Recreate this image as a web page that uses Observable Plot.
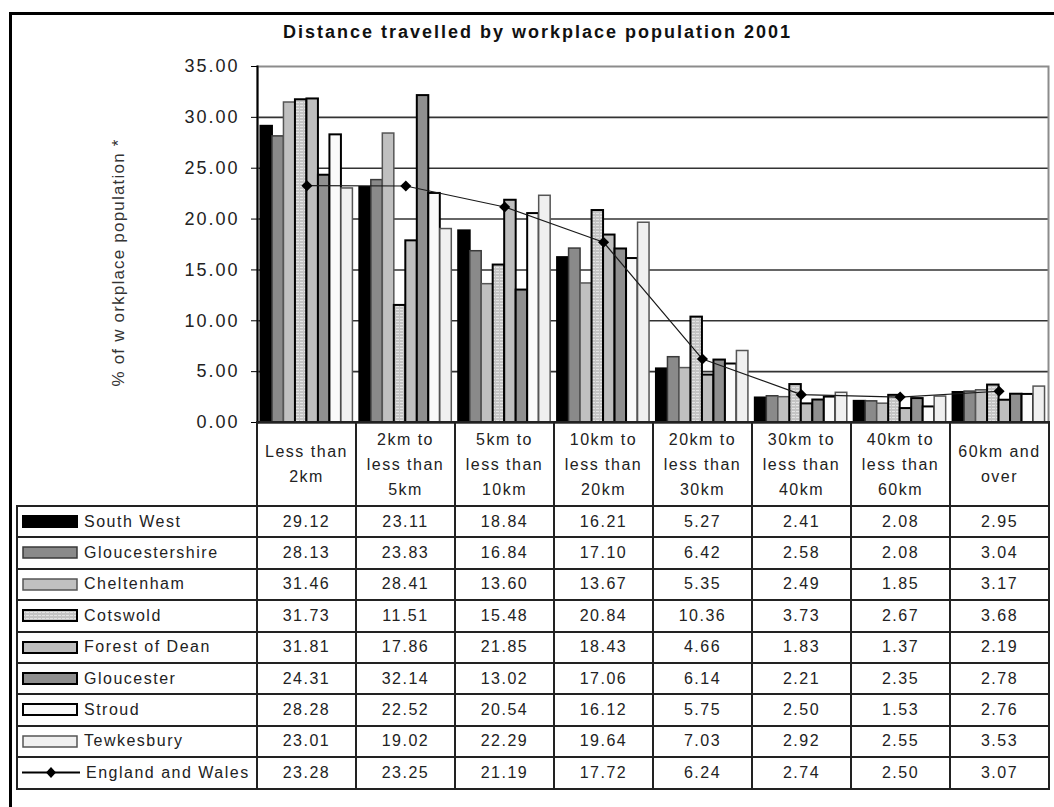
<!DOCTYPE html>
<html>
<head>
<meta charset="utf-8">
<script src="https://cdn.jsdelivr.net/npm/d3@7"></script>
<script src="https://cdn.jsdelivr.net/npm/@observablehq/plot@0.6"></script>
<style>
  html, body { margin: 0; padding: 0; background: #fff; }
  body { font-family: "Liberation Sans", Arial, sans-serif; }
  #wrap { position: relative; width: 1054px; height: 807px; overflow: hidden; background: #fff; }
  #frame { position: absolute; left: 9px; top: 12px; width: 1200px; height: 1000px;
           border-top: 3px solid #000; border-left: 3px solid #000; }
  #title { position: absolute; left: 0; top: 21px; width: 1075px; text-align: center;
           font-size: 18px; font-weight: bold; letter-spacing: 2px; color: #111; line-height: 22px; }
  #chart { position: absolute; left: 0; top: 0; }
  #table { position: absolute; left: 16px; top: 421px; }
  #table table { border-collapse: collapse; table-layout: fixed; width: 1032px; }
  #table td { border: 2px solid #222; font-size: 16px; letter-spacing: 1.5px; text-align: center;
              padding: 0; color: #222; height: 29.4px; line-height: 18px; }
  #table tr.head td { height: 82px; line-height: 25px; }
  #table td.blank { border-top: none; border-left: none; }
  #table td.name { text-align: left; padding-left: 4px; white-space: nowrap; }
  #table td.name svg { vertical-align: middle; margin-right: 6px; position: relative; top: -1px; }
</style>
</head>
<body>
<div id="wrap">
  <div id="frame"></div>
  <div id="title"></div>
  <div id="chart"></div>
  <div id="table"></div>
</div>
<script>
// ---- data ----
const titleText = "Distance travelled by workplace population 2001";
const yLabel = "% of w orkplace population *";
const categories = ["Less than 2km", "2km to less than 5km", "5km to less than 10km", "10km to less than 20km",
  "20km to less than 30km", "30km to less than 40km", "40km to less than 60km", "60km and over"];
const categoryLabels = [["Less than", "2km"], ["2km to", "less than", "5km"], ["5km to", "less than", "10km"],
  ["10km to", "less than", "20km"], ["20km to", "less than", "30km"], ["30km to", "less than", "40km"],
  ["40km to", "less than", "60km"], ["60km and", "over"]];
const seriesNames = ["South West", "Gloucestershire", "Cheltenham", "Cotswold", "Forest of Dean",
  "Gloucester", "Stroud", "Tewkesbury"];
const southWest       = [29.12, 23.11, 18.84, 16.21, 5.27, 2.41, 2.08, 2.95];
const gloucestershire = [28.13, 23.83, 16.84, 17.10, 6.42, 2.58, 2.08, 3.04];
const cheltenham      = [31.46, 28.41, 13.60, 13.67, 5.35, 2.49, 1.85, 3.17];
const cotswold        = [31.73, 11.51, 15.48, 20.84, 10.36, 3.73, 2.67, 3.68];
const forestOfDean    = [31.81, 17.86, 21.85, 18.43, 4.66, 1.83, 1.37, 2.19];
const gloucester      = [24.31, 32.14, 13.02, 17.06, 6.14, 2.21, 2.35, 2.78];
const stroud          = [28.28, 22.52, 20.54, 16.12, 5.75, 2.50, 1.53, 2.76];
const tewkesbury      = [23.01, 19.02, 22.29, 19.64, 7.03, 2.92, 2.55, 3.53];
const lineName = "England and Wales";
const englandWales    = [23.28, 23.25, 21.19, 17.72, 6.24, 2.74, 2.50, 3.07];
const yTicks = [0, 5, 10, 15, 20, 25, 30, 35];
const gridLines = [5, 10, 15, 20, 25, 30];

// ---- styles ----
const seriesValues = [southWest, gloucestershire, cheltenham, cotswold, forestOfDean, gloucester, stroud, tewkesbury];
const seriesStyle = [
  {fill: "#000000", stroke: "#000000", sw: 2},
  {fill: "#8a8a8a", stroke: "#3a3a3a", sw: 1.5},
  {fill: "#c0c0c0", stroke: "#555555", sw: 1.5},
  {fill: "url(#hatch)", stroke: "#000000", sw: 2},
  {fill: "#bebebe", stroke: "#000000", sw: 2},
  {fill: "#8f8f8f", stroke: "#000000", sw: 2},
  {fill: "#fafafa", stroke: "#000000", sw: 2},
  {fill: "#f0f0f0", stroke: "#555555", sw: 1.5}
];

const xScale = {domain: categories, paddingInner: 0.07, paddingOuter: 0.035, round: false, axis: null};
const ew = categories.map((c, j) => ({cat: c, value: englandWales[j]}));

function build(bw) {
  const w = bw / 8;
  const bars = seriesNames.map((s, i) => Plot.barY(
    categories.map((c, j) => ({cat: c, series: s, value: seriesValues[i][j]})),
    {x: "cat", y: "value", fill: seriesStyle[i].fill, stroke: seriesStyle[i].stroke,
     strokeWidth: seriesStyle[i].sw, insetLeft: i * w, insetRight: (7 - i) * w}
  ));
  return Plot.plot({
    width: 1054, height: 424,
    marginLeft: 257, marginRight: 6, marginTop: 66, marginBottom: 2,
    style: {fontFamily: "'Liberation Sans', Arial, sans-serif", background: "transparent", overflow: "visible"},
    x: xScale,
    y: {domain: [0, 35], label: null},
    marks: [
      Plot.ruleY(gridLines, {stroke: "#333", strokeWidth: 1.6}),
      Plot.frame({stroke: "#8c8c8c", strokeWidth: 2}),
      ...bars,
      Plot.ruleY([0], {stroke: "#000", strokeWidth: 2}),
      Plot.frame({anchor: "left", stroke: "#000", strokeWidth: 2}),
      Plot.line(ew, {x: "cat", y: "value", stroke: "#1a1a1a", strokeWidth: 1.2}),
      Plot.dot(ew, {x: "cat", y: "value", symbol: "diamond2", r: 5, fill: "#000", stroke: "none"}),
      Plot.axisY({ticks: yTicks, tickFormat: d => d.toFixed(2), tickSize: 6, tickPadding: 12,
                  fontSize: 18, stroke: "#000", fill: "#222", label: null}),
      Plot.text([yLabel], {frameAnchor: "left", rotate: -90, dx: -139, dy: 18, fontSize: 17,
                           fill: "#333", textAnchor: "middle", lineAnchor: "middle"})
    ]
  });
}

let chart = build(80);
const bw = chart.scale("x").bandwidth;
chart = build(bw);

// pattern for Cotswold
const svgSel = d3.select(chart.tagName.toLowerCase() === "svg" ? chart : chart.querySelector("svg"));
const defs = svgSel.insert("defs", ":first-child");
const pat = defs.append("pattern").attr("id", "hatch").attr("patternUnits", "userSpaceOnUse")
  .attr("width", 4).attr("height", 3);
pat.append("rect").attr("width", 4).attr("height", 3).attr("fill", "#c4c4c4");
pat.append("rect").attr("x", 0).attr("y", 0).attr("width", 3).attr("height", 1).attr("fill", "#e4e4e4");

svgSel.selectAll('g[aria-label="y-axis tick label"] text').style("letter-spacing", "2px");
svgSel.selectAll('g[aria-label="text"] text').style("letter-spacing", "1.2px");

document.getElementById("chart").appendChild(chart);
document.getElementById("title").textContent = titleText;

// ---- data table ----
function swatch(i) {
  const st = seriesStyle[i];
  return `<svg width="56" height="13"><rect x="1" y="1" width="54" height="11" fill="${st.fill}" stroke="${st.stroke}" stroke-width="${st.sw}"/></svg>`;
}
function lineSwatch() {
  return `<svg width="58" height="13"><line x1="0" x2="58" y1="6.5" y2="6.5" stroke="#000" stroke-width="2"/><path d="M29,1 L34,6.5 L29,12 L24,6.5 Z" fill="#000"/></svg>`;
}
const tbl = d3.select("#table").append("table");
const cg = tbl.append("colgroup");
cg.append("col").style("width", "240px");
categories.forEach(() => cg.append("col").style("width", "99px"));
const head = tbl.append("tr").attr("class", "head");
head.append("td").attr("class", "blank");
categoryLabels.forEach(l => head.append("td").html(l.join("<br>")));
seriesNames.forEach((s, i) => {
  const tr = tbl.append("tr");
  tr.append("td").attr("class", "name").html(swatch(i) + s);
  seriesValues[i].forEach(v => tr.append("td").text(v.toFixed(2)));
});
const trl = tbl.append("tr");
trl.append("td").attr("class", "name").html(lineSwatch() + lineName);
englandWales.forEach(v => trl.append("td").text(v.toFixed(2)));
</script>
</body>
</html>
